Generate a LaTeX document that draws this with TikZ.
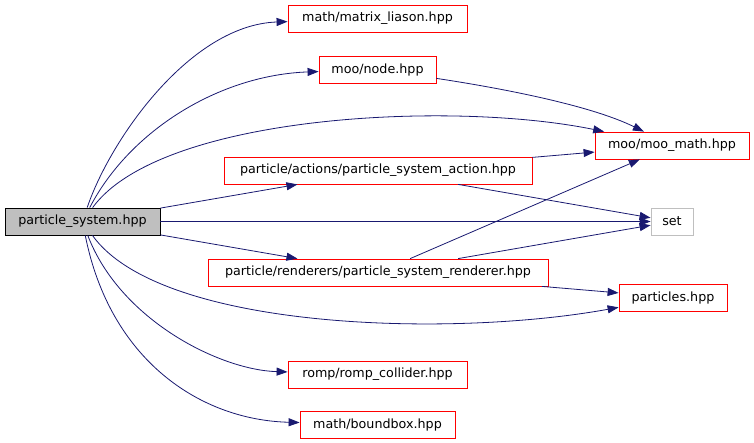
\documentclass[tikz,border=0pt]{standalone}
\usepackage{fontspec}
\setmainfont{DejaVu Sans}
\usepackage{xcolor}
\definecolor{lnk}{HTML}{191970}
\definecolor{frm}{HTML}{FF0000}
\definecolor{hdr}{HTML}{BFBFBF}
\usetikzlibrary{arrows.meta}
\tikzset{
  >={Triangle[length=11pt,width=8pt]},
  box/.style={draw=frm,line width=0.8pt,minimum height=27pt,inner sep=2pt,font=\fontsize{12.7}{14}\selectfont,fill=white},
  gbox/.style={box,draw=hdr},
  hbox/.style={box,draw=black,fill=hdr},
  arr/.style={->,draw=lnk,line width=0.8pt},
}
\begin{document}
\begin{tikzpicture}[x=1pt,y=-1pt]
\useasboundingbox (0,0) rectangle (754,442);
\node[hbox,minimum width=155pt] (ps) at (82.5,221.5) {particle\_system.hpp};
\node[box,minimum width=179pt] (ml) at (377.5,18.5) {math/matrix\_liason.hpp};
\node[box,minimum width=117pt] (nd) at (377.5,69.5) {moo/node.hpp};
\node[box,minimum width=154pt] (mm) at (672,145.5) {moo/moo\_math.hpp};
\node[box,minimum width=308pt] (act) at (378,170.5) {particle/actions/particle\_system\_action.hpp};
\node[gbox,minimum width=42pt] (set) at (672,221.5) {set};
\node[box,minimum width=340pt] (ren) at (378,272.5) {particle/renderers/particle\_system\_renderer.hpp};
\node[box,minimum width=108pt] (pts) at (673,297.5) {particles.hpp};
\node[box,minimum width=179pt] (rc) at (377.5,374.5) {romp/romp\_collider.hpp};
\node[box,minimum width=155pt] (bb) at (377.5,424.5) {math/boundbox.hpp};
% from particle_system.hpp
\draw[arr] (ps) .. controls (110,140) and (190,25) .. (ml);
\draw[arr] (ps) .. controls (130,130) and (220,75) .. (nd);
\draw[arr] (ps) .. controls (160,115) and (450,100) .. (mm);
\draw[arr] (ps)--(act); \draw[arr] (ps)--(set); \draw[arr] (ps)--(ren);
\draw[arr] (ps) .. controls (160,330) and (450,338) .. (pts);
\draw[arr] (ps) .. controls (120,320) and (220,370) .. (rc);
\draw[arr] (ps) .. controls (110,360) and (200,420) .. (bb);
% the rest
\draw[arr] (nd) .. controls (500,88) and (590,105) .. (mm);
\draw[arr] (act)--(mm); \draw[arr] (act)--(set);
\draw[arr] (ren)--(mm); \draw[arr] (ren)--(set); \draw[arr] (ren)--(pts);
\end{tikzpicture}
\end{document}
